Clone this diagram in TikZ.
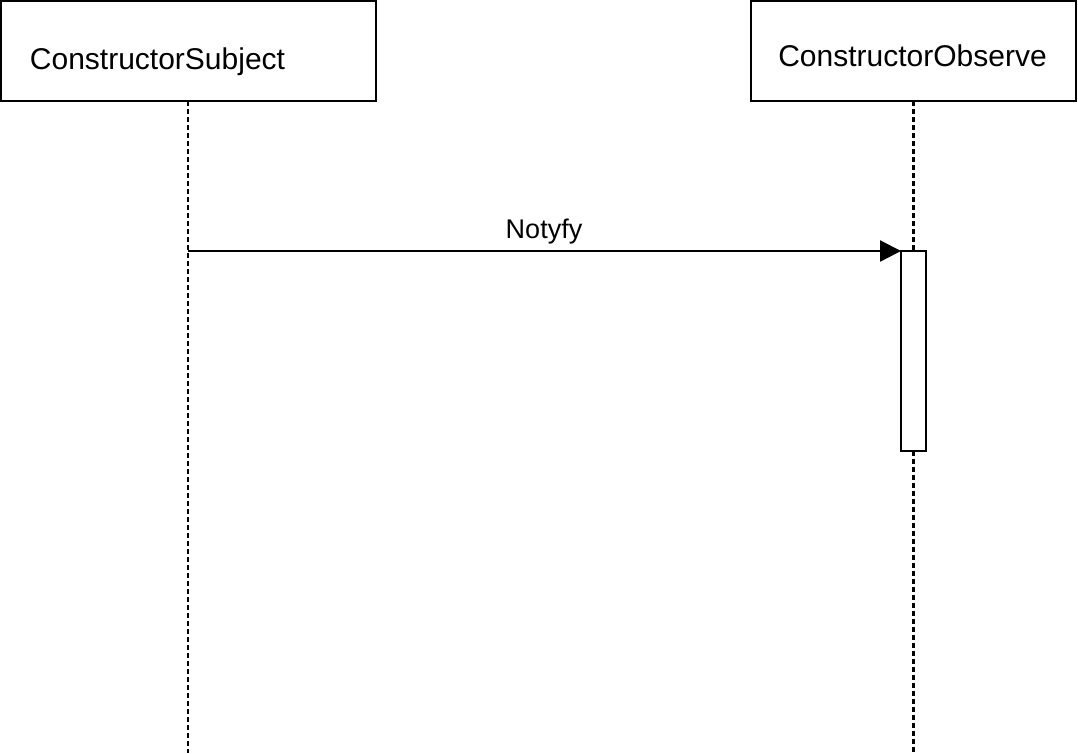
\documentclass[tikz,border=0pt]{standalone}
\usepackage{fontspec}
\setmainfont{Liberation Sans}
\usetikzlibrary{arrows.meta}
\begin{document}
\begin{tikzpicture}[x=1pt,y=-1pt,
  actor/.style={draw,line width=2.4pt,minimum width=375pt,minimum height=100pt,inner sep=0pt,outer sep=0pt},
  lifeline/.style={line width=2.4pt,dash pattern=on 5pt off 3pt},
  act/.style={draw,fill=white,line width=2.4pt,minimum width=25pt,minimum height=200pt,inner sep=0pt,outer sep=0pt},
  msg/.style={line width=2.4pt,-{Triangle[length=21pt,width=21pt]}},
  lbl/.style={font=\fontsize{30}{36}\selectfont,inner sep=0pt}]
\useasboundingbox (0,0) rectangle (1078,753);
\node[actor] (subj) at (188.5,51) {};
\node[lbl] (subjt) at (157.5,62) {ConstructorSubject};
\node[actor,minimum width=325pt] (obs) at (913.5,51) {};
\node[lbl] (obst) at (912.5,56) {ConstructorObserve};
\coordinate (subjend) at (188,753);
\coordinate (obsend) at (913.5,753);
\coordinate (msgstart) at (188,251);
\draw[lifeline] (subj.south -| msgstart) -- (subjend);
\node[act] (actv) at (913.5,351) {};
\draw[lifeline] (obs.south -| obsend) -- (actv.north -| obsend);
\draw[lifeline] (actv.south -| obsend) -- (obsend);
\draw[msg] (msgstart) -- (actv.north west);
\node[lbl,font=\fontsize{27}{32}\selectfont] (m) at (544,232) {Notyfy};
\end{tikzpicture}
\end{document}
